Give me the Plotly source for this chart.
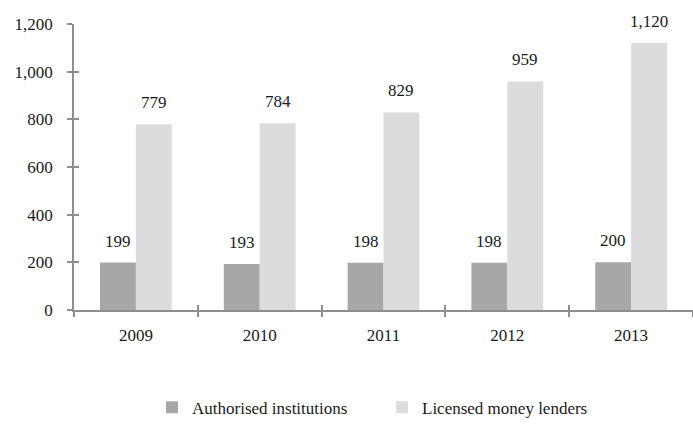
import plotly.graph_objects as go

years = ["2009", "2010", "2011", "2012", "2013"]
authorised = [199, 193, 198, 198, 200]
lenders = [779, 784, 829, 959, 1120]
series_names = ["Authorised institutions", "Licensed money lenders"]
y_ticks = [0, 200, 400, 600, 800, 1000, 1200]
y_tick_labels = ["0", "200", "400", "600", "800", "1,000", "1,200"]

W, H = 693, 426
M_L, M_R, M_T, M_B = 74, 0, 24, 112
BARGAP = 0.42
DARK = "#a7a7a9"
LIGHT = "#dcdcde"
AXIS = "#8e8e8e"
TEXT = "#1a1a1a"
FONT = "Liberation Serif, Times New Roman, serif"
FS = 17

fig = go.Figure()
fig.add_bar(x=years, y=authorised, name=series_names[0], marker_color=DARK,
            marker_line_width=0)
fig.add_bar(x=years, y=lenders, name=series_names[1], marker_color=LIGHT,
            marker_line_width=0)

# hidden trace carrying the overlay axes that give crossing tick marks
fig.add_scatter(x=years, y=[0] * len(years), xaxis="x2", yaxis="y2",
                mode="markers", marker_opacity=0, showlegend=False,
                hoverinfo="skip")

# value labels above each bar (category index positions on the x axis)
cat_px = (W - M_L - M_R) / len(years)
bar_px = cat_px * (1 - BARGAP) / 2
for vals, sign in ((authorised, -1), (lenders, 1)):
    for i, v in enumerate(vals):
        fig.add_annotation(x=i, y=v, xref="x", yref="y", text=f"{v:,}",
                           showarrow=False, xshift=sign * bar_px / 2,
                           yshift=10, yanchor="bottom",
                           font=dict(family=FONT, size=FS, color=TEXT))

plot_w = W - M_L - M_R
plot_h = H - M_T - M_B
x_range = [-0.5, len(years) - 0.5]
axis_common = dict(showgrid=False, zeroline=False)
fig.update_layout(
    width=W, height=H,
    margin=dict(l=M_L, r=M_R, t=M_T, b=M_B, pad=0),
    paper_bgcolor="white", plot_bgcolor="white",
    barmode="group", bargap=BARGAP, bargroupgap=0,
    font=dict(family=FONT, size=FS, color=TEXT),
    xaxis=dict(type="category", categoryorder="array", categoryarray=years,
               range=x_range, showline=True, linecolor=AXIS, linewidth=1.5,
               ticks="outside", tickson="boundaries", ticklen=5,
               tickcolor=AXIS, tickwidth=1.5, ticklabelstandoff=9,
               tickangle=0, **axis_common),
    xaxis2=dict(type="category", categoryorder="array", categoryarray=years,
                range=x_range, overlaying="x", showline=False,
                ticks="inside", tickson="boundaries", ticklen=5,
                tickcolor=AXIS, tickwidth=1.5, showticklabels=False,
                **axis_common),
    yaxis=dict(range=[0, 1200], tickvals=y_ticks, ticktext=y_tick_labels,
               showline=True, linecolor=AXIS, linewidth=1.5,
               ticks="outside", ticklen=5, tickcolor=AXIS, tickwidth=1.5,
               ticklabelstandoff=11, **axis_common),
    yaxis2=dict(range=[0, 1200], tickvals=y_ticks, overlaying="y",
                ticks="inside", ticklen=5, tickcolor=AXIS,
                tickwidth=1.5, showticklabels=False, showline=False,
                **axis_common),
    legend=dict(orientation="h", x=(152 - M_L) / plot_w, xanchor="left",
                y=-(413 - (H - M_B)) / plot_h, yanchor="middle",
                font=dict(family=FONT, size=FS, color=TEXT),
                itemwidth=30, entrywidth=185, entrywidthmode="pixels",
                bgcolor="rgba(0,0,0,0)"),
    showlegend=True,
)

fig.write_html("out.html")
